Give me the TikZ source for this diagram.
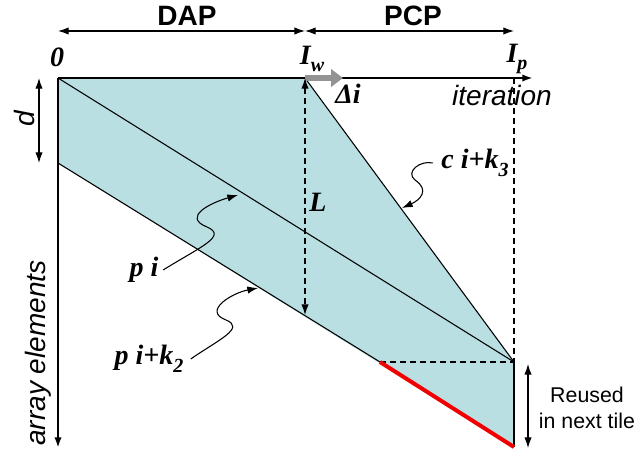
\documentclass[tikz,border=0pt]{standalone}
\usepackage{fontspec}
\setmainfont{Liberation Sans}
\newfontfamily\varfont{Liberation Serif}
\usetikzlibrary{arrows.meta}
\definecolor{tilefill}{RGB}{185,223,227}
\definecolor{reusered}{RGB}{240,0,0}
\newcommand{\lowidx}[1]{\raisebox{-0.28em}{\fontsize{15}{15}\selectfont #1}}
\tikzset{
  var/.style={font=\varfont\bfseries\itshape\fontsize{21}{21}\selectfont},
  axislabel/.style={font=\itshape\fontsize{21}{21}\selectfont},
  phase/.style={font=\bfseries\fontsize{21}{21}\selectfont},
  note/.style={font=\fontsize{16}{19}\selectfont, align=center},
  edge/.style={line width=0.8pt},
  guide/.style={line width=0.8pt, dash pattern=on 4.5pt off 3pt},
}
\begin{document}
\begin{tikzpicture}[x=0.75pt, y=-0.75pt, >={Latex[length=8pt,width=5.5pt]}]
    \useasboundingbox (0,0) rectangle (638,453);

    % Corners of the tile
    \coordinate (o) at (58,78);
    \coordinate (iw) at (305,78);
    \coordinate (ip) at (514,78);
    \coordinate (dlow) at (58,163);
    \coordinate (meet) at (514,362);
    \coordinate (cut) at (380,362);
    \coordinate (tail) at (514,447);
    \coordinate (lend) at (305,315);
    \coordinate (xend) at (533,78);
    \coordinate (yend) at (58,448);

    % Shaded tile
    \fill[tilefill] (o) -- (iw) -- (meet) -- (tail) -- (dlow) -- cycle;
    \draw[edge] (o) -- (meet);
    \draw[edge] (iw) -- (meet);
    \draw[edge] (dlow) -- (cut);
    \draw[edge] (meet) -- (tail);
    \draw[guide] (cut) -- (meet);
    \draw[guide] (ip) -- (meet);
    \draw[reusered, line width=3pt] (cut) -- (tail);

    % Axes
    \draw[line width=1.8pt, ->] (o) -- (xend);
    \draw[line width=1.8pt, ->] (o) -- (yend);
    \draw[line width=4pt, gray!85, -{Triangle[length=9pt,width=13pt]}] (iw) -- ++(38,0) coordinate (dtip);
    \draw[guide, <->] (iw) -- (lend);

    % Phases
    \coordinate (dap0) at (58,31);
    \coordinate (dap1) at (305,31);
    \coordinate (pcp1) at (514,31);
    \draw[edge, <->] (dap0) -- (dap1);
    \draw[edge, <->] (dap1) -- (pcp1);
    \node[phase] (dap) at (187,16) {DAP};
    \node[phase] (pcp) at (413,16) {PCP};

    % d
    \coordinate (dtop) at (39,78);
    \coordinate (dbot) at (39,163);
    \draw[edge, <->] (dtop) -- (dbot);
    \node[axislabel, rotate=90] (dlab) at (24,119) {d};

    % Labels
    \node[var] (zero) at (57,57) {0};
    \node[var] (iwlab) at (312,59) {I\lowidx{w}};
    \node[var] (iplab) at (517,59) {I\lowidx{p}};
    \node[var] (dilab) at (348,94) {Δi};
    \node[axislabel] (iter) at (502,95) {iteration};
    \node[var] (llab) at (318,202) {L};
    \node[axislabel, rotate=90] (arr) at (38,353) {array elements};
    \node[var] (ck) at (475,163) {c i+k\lowidx{3}};
    \node[var] (pi) at (144,270) {p i};
    \node[var] (pik) at (149,359) {p i+k\lowidx{2}};

    % Wavy pointers
    \coordinate (citip) at (402,208);
    \coordinate (pitip) at (238,195);
    \coordinate (piktip) at (258,288);
    \draw[edge, ->] ([xshift=-3pt]ck.west) .. controls (420,160) and (405,172) .. (415,180)
        .. controls (430,190) and (420,200) .. (citip);
    \draw[edge, ->] (pi.east) .. controls (200,247) and (228,236) .. (207,227)
        .. controls (182,217) and (210,203) .. (pitip);
    \draw[edge, ->] ([xshift=2pt]pik.east) .. controls (218,340) and (246,328) .. (226,320)
        .. controls (202,311) and (232,293) .. (piktip);

    % Reuse
    \coordinate (rtop) at (528,364);
    \coordinate (rbot) at (528,448);
    \draw[edge, <->] (rtop) -- (rbot);
    \node[note] (reuse) at (587,408) {Reused\\in next tile};
\end{tikzpicture}
\end{document}
